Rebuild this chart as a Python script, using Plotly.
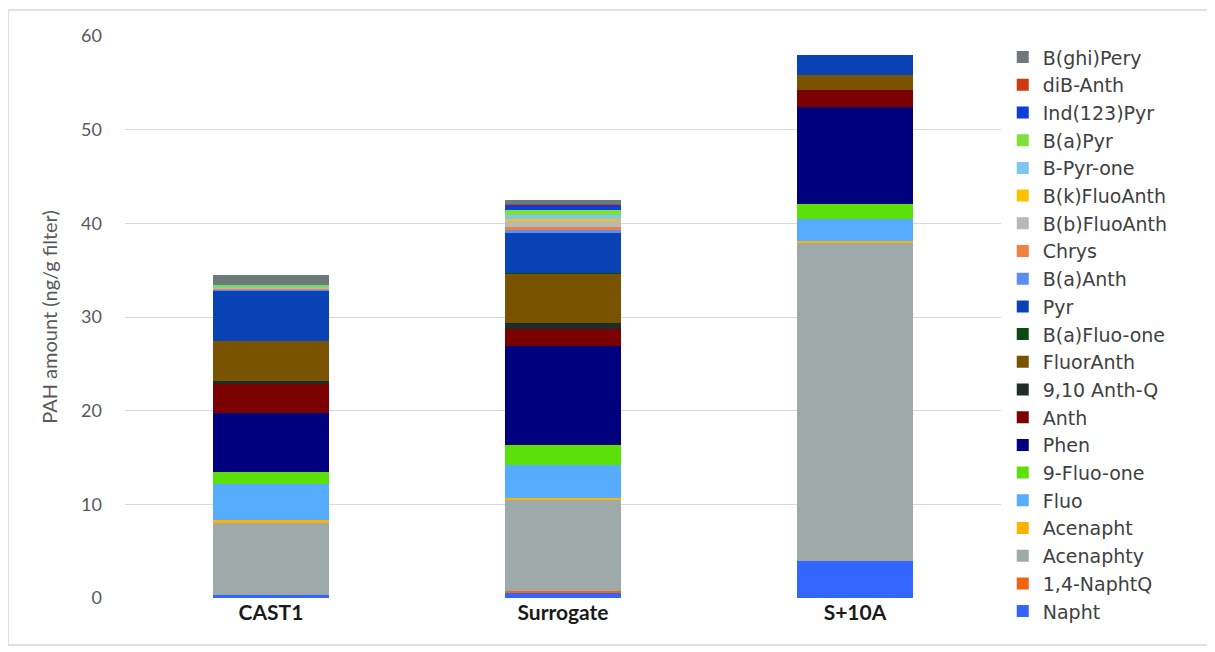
import plotly.graph_objects as go

# samples on the x axis
samples = ['CAST1', 'Surrogate', 'S+10A']

# PAH species, bottom of stack first
species = [
    'Napht', '1,4-NaphtQ', 'Acenaphty', 'Acenapht', 'Fluo', '9-Fluo-one',
    'Phen', 'Anth', '9,10 Anth-Q', 'FluorAnth', 'B(a)Fluo-one', 'Pyr',
    'B(a)Anth', 'Chrys', 'B(b)FluoAnth', 'B(k)FluoAnth', 'B-Pyr-one',
    'B(a)Pyr', 'Ind(123)Pyr', 'diB-Anth', 'B(ghi)Pery',
]

# ng/g filter per sample, same order as samples
napht = [0.3, 0.6, 3.9]
naphtq = [0.0, 0.2, 0.0]
acenaphty = [7.75, 9.7, 34.05]
acenapht = [0.25, 0.2, 0.15]
fluo = [3.9, 3.5, 2.4]
fluo_one = [1.2, 2.1, 1.6]
phen = [6.4, 10.6, 10.3]
anth = [3.1, 1.8, 1.8]
anth_q = [0.3, 0.7, 0.0]
fluoranth = [4.2, 5.2, 1.6]
bafluo_one = [0.0, 0.1, 0.0]
pyr = [5.45, 4.3, 2.2]
banth = [0.05, 0.3, 0.0]
chrys = [0.1, 0.3, 0.0]
bbfluoanth = [0.1, 0.7, 0.0]
bkfluoanth = [0.1, 0.2, 0.0]
bpyr_one = [0.05, 0.4, 0.0]
bapyr = [0.2, 0.5, 0.0]
ind_pyr = [0.0, 0.6, 0.0]
dib_anth = [0.0, 0.1, 0.0]
bghi_pery = [1.0, 0.4, 0.0]

values = [
    napht, naphtq, acenaphty, acenapht, fluo, fluo_one, phen, anth, anth_q,
    fluoranth, bafluo_one, pyr, banth, chrys, bbfluoanth, bkfluoanth,
    bpyr_one, bapyr, ind_pyr, dib_anth, bghi_pery,
]

colors = [
    '#3366ff', '#f5620f', '#9eaaaa', '#ffb300', '#56acff', '#5ce00a',
    '#00007f', '#7b0000', '#1e2c2c', '#7a5300', '#0b4a13', '#0842b5',
    '#5b8ef0', '#f0813e', '#b4bab6', '#ffc000', '#7ec4f5',
    '#7ee13a', '#0b3fd8', '#d03a10', '#6b7b7b',
]

# page has an 8px body margin, so the figure is a bit smaller
OFF = 8
W, H = 1215 - OFF, 652 - OFF
# plot area in page pixels
PX0, PX1, PY0, PY1 = 125, 1001, 36, 598
L, R = PX0 - OFF, W - (PX1 - OFF)
T, B = PY0 - OFF, H - (PY1 - OFF)


def main():
    fig = go.Figure()
    n = len(species)
    for i, (name, vals, col) in enumerate(zip(species, values, colors)):
        fig.add_trace(go.Bar(
            x=samples, y=vals, name=name, marker_color=col,
            marker_line_width=0, legendgroup=name, legendrank=n - i,
        ))

    pw = PX1 - PX0
    ph = PY1 - PY0
    # light frame around the whole chart (page coords 8..1210, 10..645)
    fig.add_shape(
        type='rect', xref='paper', yref='paper',
        x0=(8 - PX0) / pw, x1=(1210 - PX0) / pw,
        y0=(PY1 - 645) / ph, y1=(PY1 - 10) / ph,
        line=dict(color='#d9d9d9', width=1.5), layer='below',
    )

    fig.update_layout(
        barmode='stack',
        bargap=0.6,
        width=W,
        height=H,
        margin=dict(l=L, r=R, t=T, b=B),
        plot_bgcolor='white',
        paper_bgcolor='white',
        font=dict(family='Lato, Open Sans, sans-serif', color='#404040'),
        xaxis=dict(
            showgrid=False, showline=False, ticks='',
            tickfont=dict(size=21, color='#1a1a1a', weight='bold'),
        ),
        yaxis=dict(
            range=[0, 60], dtick=10, showgrid=True, gridcolor='#d9d9d9',
            gridwidth=1, zeroline=False, showline=False,
            tickfont=dict(size=18, color='#595959'),
            ticklabelstandoff=22,
            title=dict(
                text='PAH amount (ng/g filter)', standoff=18,
                font=dict(size=20, color='#595959'),
            ),
        ),
        legend=dict(
            x=1.002, xanchor='left', y=0.996, yanchor='top',
            traceorder='grouped', tracegroupgap=0,
            font=dict(family='DejaVu Sans, sans-serif', size=19,
                      color='#404040'),
            itemwidth=30, maxheight=640,
        ),
    )

    fig.write_html('out.html')
    return fig


if __name__ == '__main__':
    main()
